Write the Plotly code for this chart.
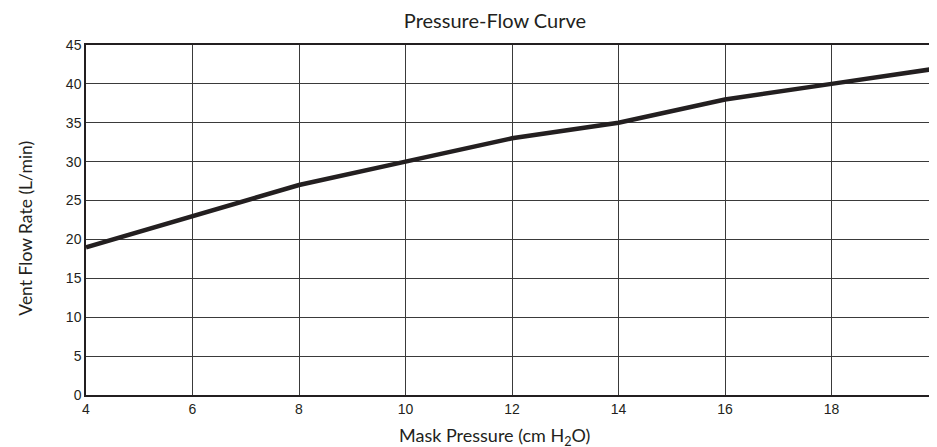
import plotly.graph_objects as go

pressure = [4, 6, 8, 10, 12, 14, 16, 18, 20]
flow = [19, 23, 27, 30, 33, 35, 38, 40, 42]
x_ticks = [4, 6, 8, 10, 12, 14, 16, 18, 20]
y_ticks = [0, 5, 10, 15, 20, 25, 30, 35, 40, 45]

W, H = 937, 447
fig = go.Figure()
fig.add_trace(go.Scatter(x=pressure, y=flow, mode="lines",
                         line=dict(color="#231f20", width=4.5), showlegend=False))

title_font = dict(family="Lato, Open Sans, sans-serif", size=20, color="#231f20")
tick_font = dict(family="Liberation Sans, Arial, sans-serif", size=14, color="#231f20")

fig.update_layout(
    width=W, height=H,
    margin=dict(l=78, r=5, t=37, b=60),
    paper_bgcolor="white", plot_bgcolor="white",
    title=dict(text="Pressure-Flow Curve", xref="paper", x=0.48, xanchor="center",
               yref="container", y=1 - 13 / H, yanchor="middle", font=title_font),
    xaxis=dict(range=[4, 20], tickvals=x_ticks, showgrid=True, gridcolor="#3a3a3a", gridwidth=1,
               showline=True, linecolor="#231f20", linewidth=2, mirror=True, ticks="",
               zeroline=False, tickfont=tick_font),
    yaxis=dict(range=[0, 45], tickvals=y_ticks, showgrid=True, gridcolor="#3a3a3a", gridwidth=1,
               showline=True, linecolor="#231f20", linewidth=1.5, mirror=True, ticks="",
               zeroline=False, tickfont=tick_font),
    annotations=[
        dict(text="Mask Pressure (cm H<sub>2</sub>O)", xref="paper", x=0.48, xanchor="center",
             yref="paper", y=-(428 - 387) / 350, yanchor="middle", showarrow=False,
             font=dict(family="Lato, Open Sans, sans-serif", size=18, color="#231f20")),
        dict(text="Vent Flow Rate (L/min)", xref="paper", x=-0.072, xanchor="center",
             yref="paper", y=(387 - 220) / 350, yanchor="middle", textangle=-90, showarrow=False,
             font=dict(family="Lato, Open Sans, sans-serif", size=17.5, color="#231f20")),
    ],
)

fig.write_html("out.html")
